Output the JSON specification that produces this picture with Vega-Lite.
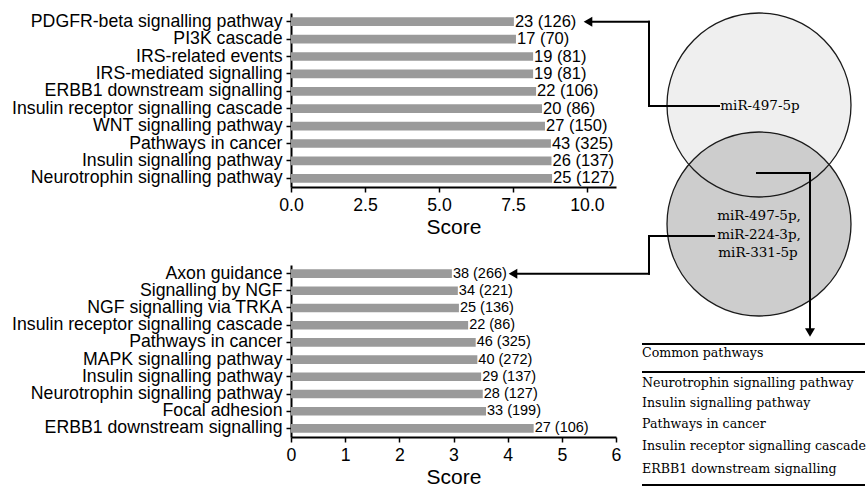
{
  "$schema": "https://vega.github.io/schema/vega-lite/v6.json",
  "padding": {"left": 11, "top": 10, "right": 0, "bottom": 0},
  "background": "white",
  "bounds": "flush",
  "columns": 2,
  "spacing": {"row": 78, "column": 0},
  "config": {
    "font": "Liberation Sans",
    "view": {"stroke": null},
    "axis": {
      "grid": false,
      "domainColor": "black",
      "domainWidth": 2,
      "tickColor": "black",
      "tickWidth": 1.5,
      "tickSize": 5,
      "labelFont": "Liberation Sans",
      "labelFontSize": 17.7,
      "labelColor": "black",
      "labelPadding": 4,
      "labelFlush": false,
      "labelLimit": 0,
      "labelOverlap": false,
      "titleFont": "Liberation Sans",
      "titleFontSize": 21,
      "titleFontWeight": "normal",
      "titleColor": "black",
      "titlePadding": 3
    }
  },
  "datasets": {
    "top": [
      {"pathway": "PDGFR-beta signalling pathway", "score": 7.53, "label": "23 (126)"},
      {"pathway": "PI3K cascade", "score": 7.6, "label": "17 (70)"},
      {"pathway": "IRS-related events", "score": 8.18, "label": "19 (81)"},
      {"pathway": "IRS-mediated signalling", "score": 8.18, "label": "19 (81)"},
      {"pathway": "ERBB1 downstream signalling", "score": 8.28, "label": "22 (106)"},
      {"pathway": "Insulin receptor signalling cascade", "score": 8.48, "label": "20 (86)"},
      {"pathway": "WNT signalling pathway", "score": 8.58, "label": "27 (150)"},
      {"pathway": "Pathways in cancer", "score": 8.78, "label": "43 (325)"},
      {"pathway": "Insulin signalling pathway", "score": 8.8, "label": "26 (137)"},
      {"pathway": "Neurotrophin signalling pathway", "score": 8.82, "label": "25 (127)"}
    ],
    "bottom": [
      {"pathway": "Axon guidance", "score": 2.97, "label": "38 (266)"},
      {"pathway": "Signalling by NGF", "score": 3.08, "label": "34 (221)"},
      {"pathway": "NGF signalling via TRKA", "score": 3.1, "label": "25 (136)"},
      {"pathway": "Insulin receptor signalling cascade", "score": 3.27, "label": "22 (86)"},
      {"pathway": "Pathways in cancer", "score": 3.41, "label": "46 (325)"},
      {"pathway": "MAPK signalling pathway", "score": 3.44, "label": "40 (272)"},
      {"pathway": "Insulin signalling pathway", "score": 3.51, "label": "29 (137)"},
      {"pathway": "Neurotrophin signalling pathway", "score": 3.54, "label": "28 (127)"},
      {"pathway": "Focal adhesion", "score": 3.6, "label": "33 (199)"},
      {"pathway": "ERBB1 downstream signalling", "score": 4.48, "label": "27 (106)"}
    ],
    "sets": [
      {"set": "miR-497-5p", "x": 14.3, "y": 9.2},
      {"set": "miR-497-5p, miR-224-3p, miR-331-5p", "x": 14.3, "y": 21.1}
    ],
    "links": [
      {"x": -2.8, "y": 0.87, "x2": 3.3, "y2": 0.87},
      {"x": 3.3, "y": 0.87, "x2": 3.3, "y2": 9.3},
      {"x": 3.3, "y": 9.3, "x2": 10.3, "y2": 9.3},
      {"x": -10.3, "y": 26.07, "x2": 3.3, "y2": 26.07},
      {"x": 3.3, "y": 26.07, "x2": 3.3, "y2": 22.3},
      {"x": 3.3, "y": 22.3, "x2": 9.8, "y2": 22.3},
      {"x": 14.1, "y": 16.0, "x2": 19.4, "y2": 16.0},
      {"x": 19.4, "y": 16.0, "x2": 19.4, "y2": 31.9}
    ],
    "headsLeft": [
      {"x": -2.8, "y": 0.87},
      {"x": -10.3, "y": 26.07}
    ],
    "headsDown": [
      {"x": 19.4, "y": 31.95}
    ],
    "setLabels": [
      {"label": "miR-497-5p", "x": 14.4, "y": 9.3},
      {"label": "miR-497-5p,", "x": 14.3, "y": 20.3},
      {"label": "miR-224-3p,", "x": 14.3, "y": 22.2},
      {"label": "miR-331-5p", "x": 14.2, "y": 24.0}
    ],
    "tableText": [
      {"label": "Common pathways", "x": 2.6, "y": 34.0},
      {"label": "Neurotrophin signalling pathway", "x": 2.6, "y": 37.0},
      {"label": "Insulin signalling pathway", "x": 2.6, "y": 39.0},
      {"label": "Pathways in cancer", "x": 2.6, "y": 41.1},
      {"label": "Insulin receptor signalling cascade", "x": 2.6, "y": 43.3},
      {"label": "ERBB1 downstream signalling", "x": 2.6, "y": 45.6}
    ],
    "tableRules": [
      {"x": 2.6, "x2": 24.9, "y": 33.1},
      {"x": 2.6, "x2": 24.9, "y": 35.9},
      {"x": 2.6, "x2": 24.9, "y": 47.2}
    ]
  },
  "concat": [
    {
      "width": 325,
      "height": 174,
      "data": {"name": "top"},
      "encoding": {
        "y": {
          "field": "pathway",
          "type": "nominal",
          "sort": null,
          "scale": {"paddingInner": 0.5, "paddingOuter": 0.25},
          "axis": {"title": null}
        },
        "x": {
          "field": "score",
          "type": "quantitative",
          "scale": {"domain": [0, 10.98], "nice": false},
          "axis": {"values": [0, 2.5, 5, 7.5, 10], "format": ".1f", "title": "Score"}
        }
      },
      "layer": [
        {"mark": {"type": "bar", "color": "#9a9a9a"}},
        {
          "mark": {"type": "text", "align": "left", "baseline": "middle", "dx": 1, "fontSize": 16.5, "color": "black"},
          "encoding": {"text": {"field": "label"}}
        }
      ]
    },
    {
      "width": 249,
      "height": 174,
      "encoding": {
        "x": {"field": "x", "type": "quantitative", "scale": {"domain": [0, 24.9], "nice": false, "zero": false}, "axis": null},
        "y": {"field": "y", "type": "quantitative", "scale": {"domain": [0, 17.4], "nice": false, "zero": false, "reverse": true}, "axis": null}
      },
      "layer": [
        {
          "data": {"name": "sets"},
          "mark": {"type": "point", "shape": "circle", "size": 33856, "filled": true, "opacity": 1, "strokeWidth": 0},
          "encoding": {
            "color": {"field": "set", "type": "nominal", "scale": {"domain": ["miR-497-5p", "miR-497-5p, miR-224-3p, miR-331-5p"], "range": ["#efefef", "#cdcdcd"]}, "legend": null}
          }
        },
        {
          "data": {"name": "sets"},
          "mark": {"type": "point", "shape": "circle", "size": 33856, "filled": false, "opacity": 1, "stroke": "#1a1a1a", "strokeWidth": 1.3}
        },
        {
          "data": {"name": "links"},
          "mark": {"type": "rule", "color": "black", "strokeWidth": 2, "strokeCap": "square"},
          "encoding": {"x2": {"field": "x2"}, "y2": {"field": "y2"}}
        },
        {
          "data": {"name": "headsLeft"},
          "mark": {"type": "point", "shape": "triangle-left", "size": 100, "filled": true, "opacity": 1, "color": "black"}
        },
        {
          "data": {"name": "headsDown"},
          "mark": {"type": "point", "shape": "triangle-down", "size": 100, "filled": true, "opacity": 1, "color": "black"}
        },
        {
          "data": {"name": "setLabels"},
          "mark": {"type": "text", "font": "DejaVu Serif", "fontSize": 13.5, "align": "center", "baseline": "middle", "color": "black"},
          "encoding": {"text": {"field": "label"}}
        },
        {
          "data": {"name": "tableText"},
          "mark": {"type": "text", "font": "DejaVu Serif", "fontSize": 12.6, "align": "left", "baseline": "middle", "color": "black"},
          "encoding": {"text": {"field": "label"}}
        },
        {
          "data": {"name": "tableRules"},
          "mark": {"type": "rule", "color": "black", "strokeWidth": 1.8},
          "encoding": {"x2": {"field": "x2"}}
        }
      ]
    },
    {
      "width": 325,
      "height": 172,
      "data": {"name": "bottom"},
      "encoding": {
        "y": {
          "field": "pathway",
          "type": "nominal",
          "sort": null,
          "scale": {"paddingInner": 0.5, "paddingOuter": 0.25},
          "axis": {"title": null}
        },
        "x": {
          "field": "score",
          "type": "quantitative",
          "scale": {"domain": [0, 6], "nice": false},
          "axis": {"values": [0, 1, 2, 3, 4, 5, 6], "title": "Score"}
        }
      },
      "layer": [
        {"mark": {"type": "bar", "color": "#9a9a9a"}},
        {
          "mark": {"type": "text", "align": "left", "baseline": "middle", "dx": 1, "fontSize": 14.5, "color": "black"},
          "encoding": {"text": {"field": "label"}}
        }
      ]
    }
  ]
}
